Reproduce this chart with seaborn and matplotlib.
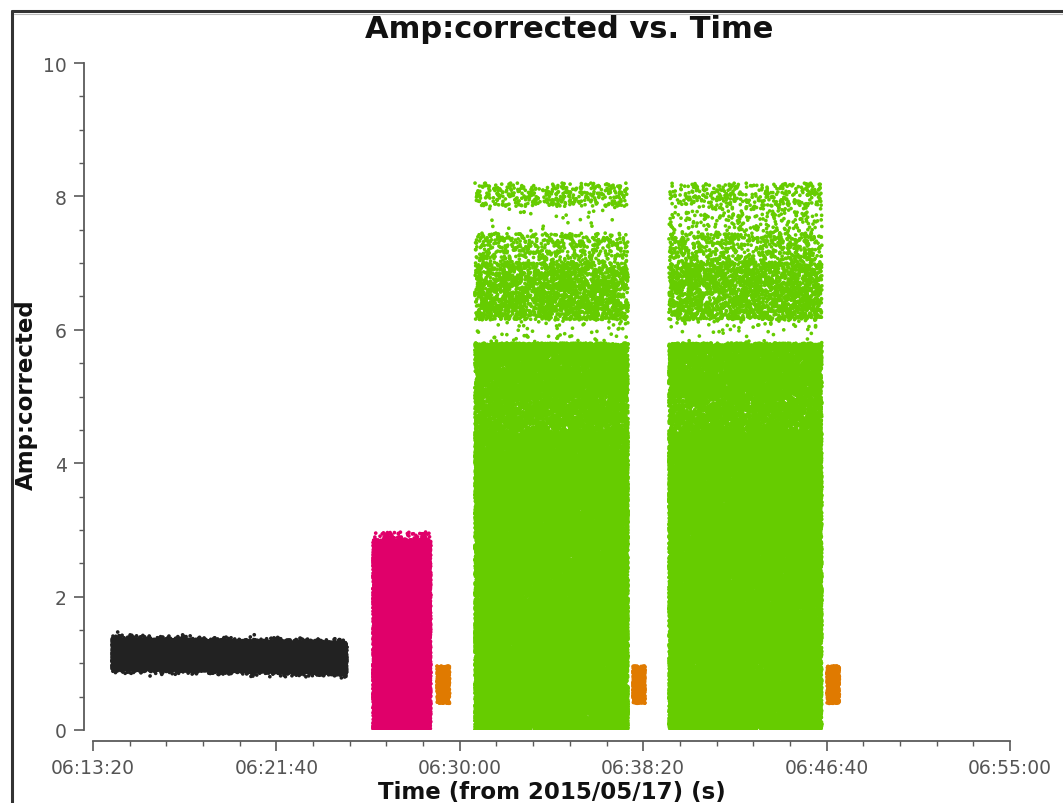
import numpy as np
import pandas as pd
import matplotlib
matplotlib.use("Agg")
import matplotlib.pyplot as plt
from matplotlib.lines import Line2D
from matplotlib.ticker import MultipleLocator
import seaborn as sns

# ---- scan layout (seconds since midnight, 2015/05/17) ----
scan_fields = ["black", "magenta", "orange", "green", "orange", "green", "orange"]
scan_start = [22452, 23163, 23338, 23441, 23872, 23970, 24401]
scan_end = [23092, 23321, 23372, 23859, 23905, 24387, 24435]

field_colors = {
    "black": "#222222",
    "magenta": "#e0006a",
    "orange": "#e07a00",
    "green": "#66cc00",
}

# amplitude bands (lower edge, upper edge, number of visibilities) per scan
black_center = [1.14, 1.08]          # band centre at scan start / end
black_halfwidth = 0.23
black_count = 16000
black_fringe = 400

magenta_lo = [0.0, 2.85]
magenta_hi = [2.85, 2.97]
magenta_counts = [12000, 70]

orange_lo = 0.40
orange_hi = 0.96
orange_count = 600

green_band_lo = [0.00, 4.45, 5.00, 5.80, 6.15, 7.00, 7.45, 7.85]
green_band_hi = [4.45, 5.00, 5.80, 6.15, 7.00, 7.45, 7.85, 8.20]
green_counts_a = [42000, 2600, 5500, 60, 2300, 500, 25, 380]
green_counts_b = [42000, 2600, 5500, 50, 2300, 600, 220, 330]

x_ticks = [22400, 22900, 23400, 23900, 24400, 24900]
x_tick_labels = ["06:13:20", "06:21:40", "06:30:00", "06:38:20", "06:46:40", "06:55:00"]
y_ticks = [0, 2, 4, 6, 8, 10]

rng = np.random.default_rng(20150517)


def cloud(t0, t1, lo, hi, n):
    t = rng.uniform(t0, t1, n)
    a = rng.uniform(lo, hi, n)
    return t, a


frames = []
green_seen = 0
for field, t0, t1 in zip(scan_fields, scan_start, scan_end):
    ts, amps = [], []
    if field == "black":
        t = rng.uniform(t0, t1, black_count)
        frac = (t - t0) / (t1 - t0)
        c = black_center[0] + (black_center[1] - black_center[0]) * frac
        ts.append(t)
        amps.append(c + rng.uniform(-black_halfwidth, black_halfwidth, black_count))
        t = rng.uniform(t0, t1, black_fringe)
        frac = (t - t0) / (t1 - t0)
        c = black_center[0] + (black_center[1] - black_center[0]) * frac
        ts.append(t)
        amps.append(c + np.sign(rng.uniform(-1, 1, black_fringe))
                    * (black_halfwidth + np.abs(rng.normal(0, 0.03, black_fringe))))
    elif field == "magenta":
        for lo, hi, n in zip(magenta_lo, magenta_hi, magenta_counts):
            t, a = cloud(t0, t1, lo, hi, n)
            ts.append(t)
            amps.append(a)
    elif field == "orange":
        t, a = cloud(t0, t1, orange_lo, orange_hi, orange_count)
        ts.append(t)
        amps.append(a)
    else:
        counts = green_counts_a if green_seen == 0 else green_counts_b
        green_seen += 1
        for lo, hi, n in zip(green_band_lo, green_band_hi, counts):
            t, a = cloud(t0, t1, lo, hi, n)
            ts.append(t)
            amps.append(a)
    t = np.concatenate(ts)
    a = np.concatenate(amps)
    frames.append(pd.DataFrame({"time": t, "amp": a, "field": field}))

vis = pd.concat(frames, ignore_index=True)

sns.set_theme(style="ticks")
plt.rcParams["font.family"] = ["DejaVu Sans"]

W, H = 1063, 804
fig = plt.figure(figsize=(W / 100, H / 100), dpi=100)
fig.patch.set_facecolor("white")
ax = fig.add_axes([93 / W, 73 / H, 917 / W, 667 / H])

sns.scatterplot(
    data=vis, x="time", y="amp", hue="field", palette=field_colors,
    s=7, linewidth=0, marker="o", legend=False, ax=ax,
)

ax.set_xlim(x_ticks[0], x_ticks[-1])
ax.set_ylim(0, 10)
ax.set_xticks(x_ticks, x_tick_labels)
ax.set_yticks(y_ticks, [str(v) for v in y_ticks])
ax.xaxis.set_minor_locator(MultipleLocator(100))
ax.yaxis.set_minor_locator(MultipleLocator(0.5))

sns.despine(ax=ax, offset={"left": 6.5, "bottom": 8})
axis_grey = "#5a5a5a"
for side in ("left", "bottom"):
    ax.spines[side].set_color(axis_grey)
    ax.spines[side].set_linewidth(1.3)

ax.tick_params(axis="both", which="major", length=7.5, width=1.2,
               color=axis_grey, labelsize=13.5, labelcolor="#555555", pad=5)
ax.tick_params(axis="both", which="minor", length=3.5, width=1.0, color=axis_grey)

ax.set_xlabel("Time (from 2015/05/17) (s)", fontsize=16.5, fontweight="bold",
              color="#111111", va="top")
ax.xaxis.set_label_coords(0.5, (731 - 781) / 667)
ax.set_ylabel("")
fig.text(26 / W, 1 - 395 / H, "Amp:corrected", rotation=90, ha="center",
         va="center", fontsize=16.5, fontweight="bold", color="#111111")

fig.text(569 / W, 1 - 30 / H, "Amp:corrected vs. Time", ha="center",
         va="center", fontsize=22, fontweight="bold", color="#111111")

# outer frame of the plot window
fx, fy = 12 / W, 1 - 12 / H
fig.add_artist(Line2D([fx, 1.0], [fy, fy], transform=fig.transFigure,
                      color="#333333", lw=2.2))
fig.add_artist(Line2D([fx, fx], [0.0, fy], transform=fig.transFigure,
                      color="#333333", lw=2.2))
fig.add_artist(Line2D([fx + 2 / W, 1.0], [fy - 2.5 / H, fy - 2.5 / H],
                      transform=fig.transFigure, color="#bbbbbb", lw=0.8))

fig.savefig("out.png", dpi=100)
